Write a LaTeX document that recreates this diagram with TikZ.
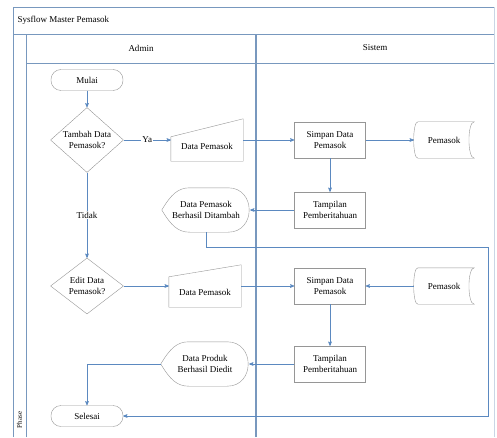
\documentclass[tikz,border=0pt]{standalone}
\usepackage{fontspec}
\setmainfont{Liberation Serif}
\usepackage{tikz}
\usetikzlibrary{shapes.geometric, arrows}
\definecolor{flowblue}{RGB}{91,137,192}
\definecolor{shapegray}{RGB}{150,150,150}
\definecolor{lanecolor}{RGB}{120,152,190}
\tikzstyle{terminal} = [rectangle, rounded corners=10pt, minimum width=72pt, minimum height=21pt, text centered, draw=shapegray]
\tikzstyle{decision} = [diamond, minimum width=73pt, minimum height=56pt, inner sep=0pt, align=center, draw=shapegray]
\tikzstyle{process} = [rectangle, minimum width=71pt, minimum height=36pt, align=center, draw=shapegray]
\tikzstyle{manualin} = [rectangle, minimum width=72pt, minimum height=42pt, text height=20pt]
\tikzstyle{storeddata} = [rectangle, minimum width=60pt, minimum height=36pt]
\tikzstyle{dispshape} = [rectangle, minimum width=88pt, minimum height=44pt, align=center]
\tikzstyle{outline} = [draw=shapegray]
\tikzstyle{arrow} = [->, >=stealth', draw=flowblue, line width=0.6pt]
\tikzstyle{lane} = [draw=lanecolor, line width=0.9pt]
\tikzstyle{flowlabel} = [fill=white, inner sep=1pt]

\begin{document}
\begin{tikzpicture}[x=1pt, y=1pt, node distance=60pt, font=\fontsize{9}{10.5}\selectfont]
    \useasboundingbox (0,0) rectangle (497,437);

    % swimlanes
    \draw[lane] (13,0) -- (13,430) -- (494,430);
    \draw[lane] (13,403) -- (494,403);
    \draw[lane] (26,374) -- (494,374);
    \draw[lane] (26,0) -- (26,403);
    \draw[lane, line width=1.1pt] (256,0) -- (256,403);
    \draw[draw=lanecolor!40] (494,0) -- (494,430);
    \node (judul) [anchor=west] at (14,417) {Sysflow Master Pemasok};
    \node (admin) at (141,389) {Admin};
    \node (sistem) at (375,389) {Sistem};
    \node (fase) [rotate=90, font=\fontsize{7}{8}\selectfont] at (19.5,17) {Phase};

    % tambah
    \node (mulai) [terminal] at (87,357) {Mulai};
    \node (tambah) [decision, below of=mulai] {Tambah Data\\Pemasok?};
    \node (input1) [manualin, right of=tambah, xshift=60pt] {Data Pemasok};
    \node (simpan1) [process, right of=input1, xshift=63pt] {Simpan Data\\Pemasok};
    \node (pemasok1) [storeddata, right of=simpan1, xshift=54pt] {Pemasok};
    \node (tampil1) [process, below of=simpan1, yshift=-10pt] {Tampilan\\Pemberitahuan};
    \node (ditambah) [dispshape, left of=tampil1, xshift=-64pt] {Data Pemasok\\Berhasil Ditambah};

    % edit
    \node (edit) [decision, below of=tambah, yshift=-86pt] {Edit Data\\Pemasok?};
    \node (input2) [manualin, right of=edit, xshift=58pt] {Data Pemasok};
    \node (simpan2) [process, right of=input2, xshift=65pt] {Simpan Data\\Pemasok};
    \node (pemasok2) [storeddata, right of=simpan2, xshift=54pt] {Pemasok};
    \node (tampil2) [process, below of=simpan2, yshift=-18pt] {Tampilan\\Pemberitahuan};
    \node (diedit) [dispshape, left of=tampil2, xshift=-65pt] {Data Produk\\Berhasil Diedit};
    \node (selesai) [terminal, below of=edit, yshift=-70pt] {Selesai};
    \coordinate (putar) at (488,190);

    % outlines of the special shapes
    \draw[outline] (input1.south west) -- (input1.south east) -- (input1.north east) -- ([yshift=-18pt]input1.north west) -- cycle;
    \draw[outline] (input2.south west) -- (input2.south east) -- (input2.north east) -- ([yshift=-12pt]input2.north west) -- cycle;
    \foreach \s in {pemasok1, pemasok2}
        \draw[outline] ([xshift=4pt]\s.north west) -- (\s.north east)
            .. controls ([xshift=-7pt]\s.north east) and ([xshift=-7pt]\s.south east) .. (\s.south east)
            -- ([xshift=4pt]\s.south west)
            .. controls ([xshift=-1.5pt]\s.south west) and ([xshift=-1.5pt]\s.north west) .. ([xshift=4pt]\s.north west);
    \foreach \s in {ditambah, diedit}
        \draw[outline] (\s.west) .. controls ([xshift=9pt,yshift=-7pt]\s.north west) and ([xshift=16pt]\s.north west) .. ([xshift=28pt]\s.north west)
            -- ([xshift=-22pt]\s.north east)
            .. controls ([xshift=6pt]\s.north east) and ([xshift=6pt]\s.south east) .. ([xshift=-22pt]\s.south east)
            -- ([xshift=28pt]\s.south west)
            .. controls ([xshift=16pt]\s.south west) and ([xshift=9pt,yshift=7pt]\s.south west) .. (\s.west);

    \draw [arrow] (mulai) -- (tambah);
    \draw [arrow] (tambah) -- node[flowlabel] {Ya} (input1);
    \draw [arrow] (input1) -- (simpan1);
    \draw [arrow] (simpan1) -- (pemasok1);
    \draw [arrow] (simpan1) -- (tampil1);
    \draw [arrow] (tampil1) -- (ditambah);
    \draw [arrow] (tambah) -- node[flowlabel] {Tidak} (edit);
    \draw [arrow] (edit) -- (input2);
    \draw [arrow] (input2) -- (simpan2);
    \draw [arrow] (pemasok2) -- (simpan2);
    \draw [arrow] (simpan2) -- (tampil2);
    \draw [arrow] (tampil2) -- (diedit);
    \draw [arrow] (diedit.west) -| (selesai.north);
    \draw [arrow] (ditambah.south) -- (ditambah.south |- putar) -- (putar) |- (selesai.east);
\end{tikzpicture}
\end{document}
